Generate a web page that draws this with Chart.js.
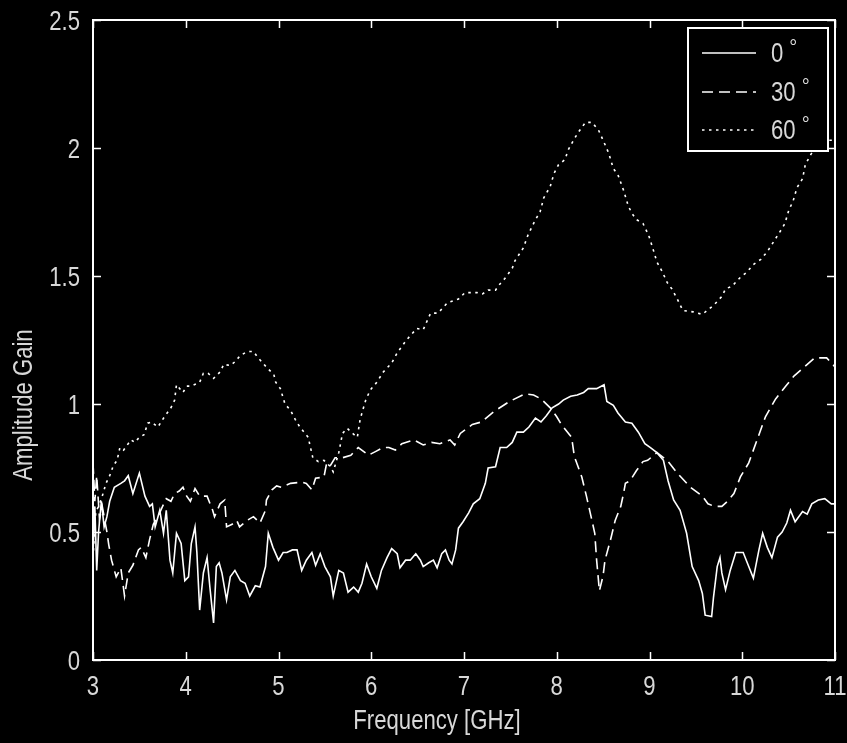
<!DOCTYPE html>
<html>
<head>
<meta charset="utf-8">
<script src="https://cdn.jsdelivr.net/npm/chart.js@4.4.1/dist/chart.umd.min.js"></script>
<style>
    html, body { margin: 0; padding: 0; background: #000; }
    #wrap { width: 847px; height: 743px; }
</style>
</head>
<body>
<div id="wrap"><canvas id="gainChart" width="847" height="743"></canvas></div>
<script>
// Series data (frequency in GHz, gain)
const freq0 = [3.00,3.02,3.04,3.06,3.09,3.12,3.15,3.18,3.23,3.30,
    3.34,3.38,3.43,3.50,3.56,3.61,3.64,3.67,3.72,3.76,
    3.79,3.83,3.86,3.90,3.95,3.99,4.03,4.06,4.10,4.12,
    4.15,4.19,4.23,4.26,4.30,4.33,4.36,4.39,4.44,4.48,
    4.53,4.59,4.64,4.69,4.75,4.80,4.86,4.89,4.94,5.00,
    5.05,5.09,5.15,5.20,5.25,5.30,5.36,5.40,5.45,5.50,
    5.56,5.59,5.65,5.70,5.75,5.81,5.86,5.90,5.95,6.00,
    6.06,6.11,6.17,6.22,6.28,6.31,6.37,6.42,6.48,6.53,
    6.56,6.62,6.67,6.71,6.76,6.80,6.84,6.87,6.91,6.94,
    6.99,7.05,7.10,7.17,7.23,7.26,7.34,7.39,7.46,7.52,
    7.57,7.64,7.70,7.77,7.83,7.89,7.95,8.02,8.07,8.15,
    8.22,8.29,8.34,8.43,8.51,8.54,8.61,8.66,8.74,8.81,
    8.88,8.95,9.01,9.08,9.15,9.20,9.26,9.33,9.40,9.46,
    9.53,9.57,9.60,9.67,9.69,9.73,9.76,9.78,9.82,9.87,
    9.93,10.01,10.07,10.12,10.18,10.22,10.27,10.32,10.38,10.43,
    10.48,10.52,10.57,10.65,10.70,10.75,10.82,10.89,10.96,11.00];
const gain0 = [0.42,0.60,0.35,0.50,0.62,0.52,0.56,0.62,0.675,0.69,
    0.70,0.72,0.65,0.73,0.64,0.60,0.61,0.52,0.585,0.495,
    0.585,0.39,0.34,0.495,0.455,0.31,0.325,0.455,0.52,0.42,
    0.195,0.34,0.40,0.285,0.145,0.365,0.38,0.34,0.235,0.325,
    0.35,0.31,0.30,0.25,0.29,0.285,0.365,0.495,0.44,0.39,
    0.42,0.42,0.43,0.43,0.35,0.39,0.42,0.37,0.415,0.365,
    0.325,0.25,0.35,0.34,0.265,0.285,0.265,0.30,0.375,0.325,
    0.28,0.35,0.40,0.435,0.415,0.36,0.39,0.39,0.415,0.39,
    0.365,0.38,0.39,0.36,0.415,0.43,0.39,0.375,0.43,0.515,
    0.54,0.575,0.61,0.63,0.69,0.75,0.755,0.83,0.83,0.85,
    0.89,0.89,0.91,0.945,0.93,0.955,0.985,1.0,1.015,1.03,
    1.035,1.045,1.06,1.06,1.075,1.01,0.995,0.965,0.93,0.925,
    0.89,0.845,0.83,0.81,0.78,0.70,0.625,0.585,0.495,0.365,
    0.31,0.26,0.175,0.17,0.245,0.365,0.40,0.34,0.275,0.35,
    0.42,0.42,0.365,0.32,0.43,0.495,0.44,0.40,0.48,0.50,
    0.535,0.585,0.54,0.58,0.57,0.61,0.625,0.63,0.61,0.61];

const freq30 = [3.00,3.02,3.04,3.07,3.10,3.15,3.17,3.20,3.25,3.30,
    3.34,3.38,3.43,3.49,3.52,3.57,3.61,3.65,3.70,3.75,
    3.79,3.84,3.88,3.93,3.97,4.01,4.05,4.10,4.15,4.23,
    4.29,4.31,4.37,4.42,4.44,4.50,4.55,4.58,4.66,4.73,
    4.80,4.86,4.87,4.93,4.98,5.03,5.13,5.25,5.30,5.36,
    5.40,5.49,5.52,5.56,5.61,5.69,5.78,5.86,5.97,6.05,
    6.13,6.19,6.26,6.33,6.46,6.56,6.65,6.74,6.85,6.90,
    6.96,7.09,7.19,7.32,7.49,7.66,7.75,7.83,7.93,8.00,
    8.05,8.16,8.19,8.27,8.32,8.37,8.41,8.43,8.46,8.50,
    8.52,8.58,8.63,8.69,8.72,8.74,8.79,8.86,8.93,8.98,
    9.08,9.19,9.30,9.44,9.57,9.63,9.70,9.78,9.84,9.91,
    9.98,10.07,10.16,10.25,10.36,10.47,10.56,10.67,10.78,10.91,
    11.00];
const gain30 = [0.77,0.62,0.72,0.55,0.60,0.50,0.45,0.39,0.325,0.36,
    0.25,0.34,0.37,0.43,0.44,0.40,0.47,0.53,0.56,0.60,
    0.63,0.62,0.65,0.66,0.675,0.64,0.62,0.67,0.64,0.64,
    0.585,0.56,0.61,0.625,0.52,0.53,0.545,0.52,0.545,0.56,
    0.535,0.585,0.625,0.665,0.68,0.675,0.69,0.695,0.69,0.665,
    0.71,0.715,0.77,0.76,0.79,0.79,0.80,0.83,0.80,0.815,
    0.83,0.83,0.82,0.845,0.86,0.84,0.85,0.845,0.86,0.84,
    0.885,0.92,0.93,0.97,1.01,1.04,1.035,1.02,0.985,0.95,
    0.92,0.87,0.795,0.715,0.64,0.56,0.495,0.39,0.27,0.33,
    0.39,0.47,0.545,0.60,0.65,0.69,0.70,0.74,0.775,0.78,
    0.81,0.78,0.73,0.675,0.64,0.61,0.60,0.60,0.62,0.65,
    0.715,0.77,0.86,0.95,1.02,1.07,1.11,1.145,1.18,1.18,
    1.145];

const freq60 = [3.00,3.03,3.06,3.10,3.14,3.18,3.22,3.26,3.29,3.33,
    3.37,3.41,3.45,3.50,3.55,3.59,3.63,3.70,3.77,3.84,
    3.88,3.90,3.97,4.01,4.06,4.15,4.19,4.24,4.30,4.37,
    4.41,4.48,4.53,4.59,4.64,4.69,4.73,4.77,4.83,4.88,
    4.95,4.97,5.02,5.07,5.13,5.18,5.23,5.32,5.37,5.43,
    5.49,5.56,5.59,5.65,5.69,5.74,5.80,5.85,5.88,5.94,
    5.99,6.06,6.13,6.22,6.28,6.38,6.49,6.56,6.64,6.72,
    6.82,6.94,7.01,7.14,7.20,7.26,7.34,7.39,7.44,7.52,
    7.55,7.64,7.69,7.77,7.82,7.86,7.93,7.97,8.02,8.09,
    8.12,8.18,8.23,8.31,8.38,8.45,8.50,8.56,8.61,8.66,
    8.72,8.77,8.81,8.86,8.93,8.99,9.03,9.08,9.14,9.19,
    9.24,9.30,9.36,9.47,9.57,9.62,9.69,9.78,9.82,9.89,
    9.98,10.05,10.12,10.20,10.27,10.34,10.41,10.46,10.50,10.55,
    10.59,10.65,10.68,10.74,10.79,10.84,10.93,11.00];
const gain60 = [0.40,0.58,0.60,0.64,0.69,0.72,0.76,0.78,0.83,0.82,
    0.84,0.86,0.85,0.87,0.88,0.925,0.93,0.91,0.95,0.985,
    1.015,1.075,1.045,1.07,1.07,1.085,1.12,1.12,1.10,1.125,
    1.155,1.15,1.165,1.19,1.20,1.205,1.205,1.185,1.16,1.14,
    1.115,1.085,1.06,1.00,0.975,0.94,0.91,0.87,0.79,0.775,
    0.78,0.755,0.735,0.81,0.885,0.905,0.885,0.87,0.94,1.015,
    1.055,1.085,1.125,1.16,1.20,1.25,1.295,1.29,1.355,1.355,
    1.395,1.41,1.435,1.435,1.43,1.445,1.445,1.47,1.49,1.53,
    1.56,1.61,1.66,1.72,1.75,1.805,1.85,1.90,1.935,1.955,
    1.99,2.03,2.06,2.10,2.10,2.07,2.03,1.98,1.92,1.895,
    1.835,1.775,1.745,1.72,1.705,1.66,1.615,1.555,1.515,1.475,
    1.45,1.41,1.365,1.36,1.35,1.365,1.385,1.42,1.45,1.46,
    1.495,1.515,1.545,1.565,1.595,1.635,1.675,1.705,1.755,1.795,
    1.845,1.88,1.935,1.975,2.0,1.99,2.03,2.03];

const seriesLabels = ['0', '30', '60'];
const xTicks = [3, 4, 5, 6, 7, 8, 9, 10, 11];
const yTicks = [0, 0.5, 1, 1.5, 2, 2.5];

const FONT = '27px "Liberation Sans", Arial, sans-serif';
const NARROW = 0.82; // horizontal squeeze to get the narrow Helvetica look
const TEXT_COLOR = '#d8d8d8';
const LINE_COLOR = '#ffffff';

const toPoints = (xs, ys) => xs.map((x, i) => ({ x: x, y: ys[i] }));

function narrowText(ctx, text, x, y, align, font) {
    ctx.save();
    ctx.font = font || FONT;
    ctx.textAlign = align;
    ctx.textBaseline = 'middle';
    ctx.translate(x, y);
    ctx.scale(NARROW, 1);
    ctx.fillText(text, 0, 0);
    const w = ctx.measureText(text).width * NARROW;
    ctx.restore();
    return w;
}

// Box, inward ticks, tick labels, axis titles and legend, MATLAB style
const framePlugin = {
    id: 'frame',
    afterDraw(chart) {
        const ctx = chart.ctx;
        const area = chart.chartArea;
        const xs = chart.scales.x;
        const ys = chart.scales.y;
        const tick = 8;

        ctx.save();
        ctx.strokeStyle = LINE_COLOR;
        ctx.lineWidth = 2;
        ctx.setLineDash([]);
        ctx.strokeRect(area.left, area.top, area.right - area.left, area.bottom - area.top);

        ctx.beginPath();
        xTicks.forEach(v => {
            const px = Math.round(xs.getPixelForValue(v)) + 0.5;
            ctx.moveTo(px, area.bottom); ctx.lineTo(px, area.bottom - tick);
            ctx.moveTo(px, area.top); ctx.lineTo(px, area.top + tick);
        });
        yTicks.forEach(v => {
            const py = Math.round(ys.getPixelForValue(v)) + 0.5;
            ctx.moveTo(area.left, py); ctx.lineTo(area.left + tick, py);
            ctx.moveTo(area.right, py); ctx.lineTo(area.right - tick, py);
        });
        ctx.lineWidth = 1.5;
        ctx.stroke();

        // Tick labels
        ctx.fillStyle = TEXT_COLOR;
        xTicks.forEach(v => {
            narrowText(ctx, String(v), xs.getPixelForValue(v), area.bottom + 28, 'center');
        });
        yTicks.forEach(v => {
            narrowText(ctx, String(v), area.left - 13, ys.getPixelForValue(v) + 3, 'right');
        });

        // Axis titles
        narrowText(ctx, 'Frequency [GHz]', 437, 722, 'center');
        ctx.save();
        ctx.translate(25, 405);
        ctx.rotate(-Math.PI / 2);
        narrowText(ctx, 'Amplitude Gain', 0, 0, 'center');
        ctx.restore();

        // Legend box
        const box = { left: 688, top: 28, right: 828, bottom: 151 };
        const rows = [53, 92, 130];
        ctx.fillStyle = '#000';
        ctx.fillRect(box.left, box.top, box.right - box.left, box.bottom - box.top);
        ctx.strokeStyle = LINE_COLOR;
        ctx.lineWidth = 2;
        ctx.strokeRect(box.left, box.top, box.right - box.left, box.bottom - box.top);

        chart.data.datasets.forEach((ds, i) => {
            const y = rows[i];
            ctx.beginPath();
            ctx.setLineDash(ds.borderDash || []);
            ctx.lineWidth = ds.borderWidth;
            ctx.moveTo(702, y);
            ctx.lineTo(756, y);
            ctx.stroke();
            ctx.setLineDash([]);

            ctx.fillStyle = TEXT_COLOR;
            const w = narrowText(ctx, ds.label, 771, y + 2, 'left');
            ctx.save();
            ctx.font = '20px "Liberation Sans", Arial, sans-serif';
            ctx.textAlign = 'left';
            ctx.textBaseline = 'alphabetic';
            ctx.fillText('\u00B0', 771 + w + 6, y + 1);
            ctx.restore();
        });
        ctx.restore();
    }
};

document.addEventListener('DOMContentLoaded', () => {
    const canvas = document.getElementById('gainChart');

    new Chart(canvas, {
        type: 'line',
        data: {
            datasets: [
                {
                    label: seriesLabels[0],
                    data: toPoints(freq0, gain0),
                    borderColor: LINE_COLOR,
                    borderWidth: 1.6,
                    borderDash: [],
                    pointRadius: 0,
                    fill: false,
                    tension: 0
                },
                {
                    label: seriesLabels[1],
                    data: toPoints(freq30, gain30),
                    borderColor: LINE_COLOR,
                    borderWidth: 1.6,
                    borderDash: [11, 6],
                    pointRadius: 0,
                    fill: false,
                    tension: 0
                },
                {
                    label: seriesLabels[2],
                    data: toPoints(freq60, gain60),
                    borderColor: LINE_COLOR,
                    borderWidth: 1.6,
                    borderDash: [2.5, 4.5],
                    pointRadius: 0,
                    fill: false,
                    tension: 0
                }
            ]
        },
        options: {
            responsive: false,
            animation: false,
            layout: { padding: { top: 20, right: 12, left: 0, bottom: 0 } },
            plugins: {
                legend: { display: false },
                tooltip: { enabled: false }
            },
            scales: {
                x: {
                    type: 'linear',
                    min: 3,
                    max: 11,
                    afterBuildTicks: scale => { scale.ticks = xTicks.map(v => ({ value: v })); },
                    afterFit: scale => { scale.height = 83; },
                    grid: { display: false },
                    border: { display: false },
                    ticks: { display: false }
                },
                y: {
                    type: 'linear',
                    min: 0,
                    max: 2.5,
                    afterBuildTicks: scale => { scale.ticks = yTicks.map(v => ({ value: v })); },
                    afterFit: scale => { scale.width = 93; },
                    grid: { display: false },
                    border: { display: false },
                    ticks: { display: false }
                }
            }
        },
        plugins: [framePlugin]
    });
});
</script>
</body>
</html>
